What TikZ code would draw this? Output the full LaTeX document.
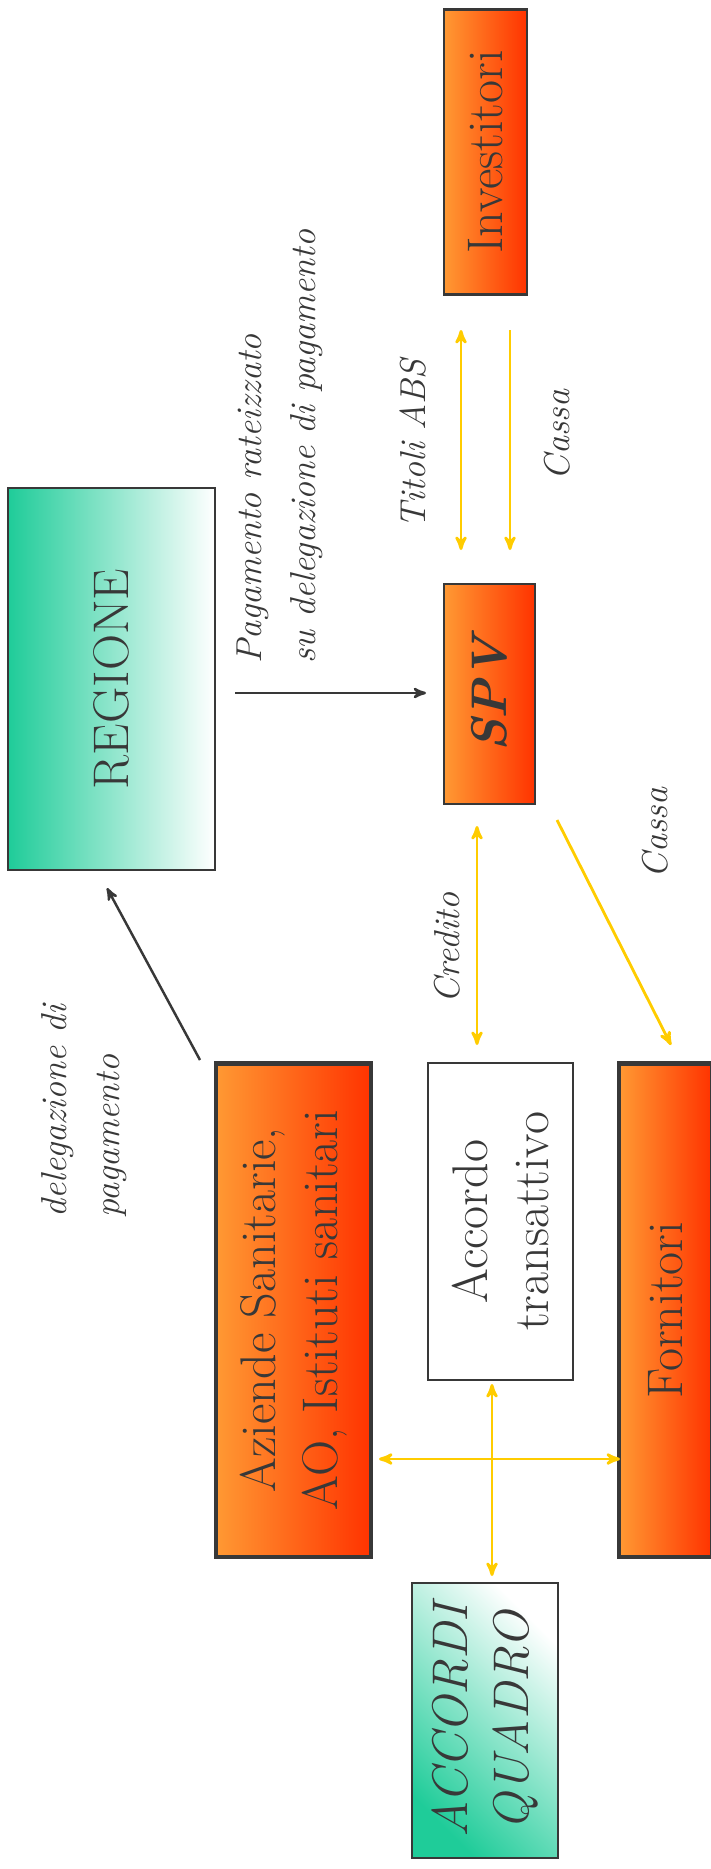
\documentclass[tikz,border=0pt]{standalone}
\usepackage{fontspec}
\usepackage{tikz}
\usetikzlibrary{arrows}

\definecolor{ink}{HTML}{383838}
\definecolor{hotL}{HTML}{FF9933}
\definecolor{hotM}{HTML}{FF7A2A}
\definecolor{hotR}{HTML}{FF3300}
\definecolor{coolL}{HTML}{1FCC99}
\definecolor{coolM}{HTML}{A6E6D2}
\definecolor{flowcol}{HTML}{FFCC00}

\begin{document}
\begin{tikzpicture}[x=0.02cm, y=-0.02cm]

\tikzset{box/.style = {rotate=90, draw=ink, line width=1.2pt, text=ink, align=center, inner sep=0pt,
  font=\fontsize{28.5}{35}\selectfont}}
\tikzset{hot/.style = {box, left color=hotL, middle color=hotM, right color=hotR}}
\tikzset{cool/.style = {box, left color=coolL, middle color=coolM, right color=white}}
\tikzset{lbl/.style = {rotate=90, text=ink, align=left, inner sep=0pt,
  font=\fontsize{20.5}{30.5}\selectfont\itshape}}
\tikzset{arc/.style = {->, >=stealth', draw=ink, line width=1.4pt}}
\tikzset{flow/.style = {>=stealth', draw=flowcol, line width=1.6pt}}

\useasboundingbox (0,0) rectangle (710,1869);

% boxes
\node[cool, minimum width=7.64cm, minimum height=4.14cm] (reg) at (111.5,679) {REGIONE};
\node[hot, minimum width=5.7cm, minimum height=1.66cm, line width=1.4pt] (inv) at (485.5,152) {Investitori};
\node[hot, minimum width=4.4cm, minimum height=1.82cm, line width=1.4pt] (spv) at (489.5,694) {\bfseries\itshape SPV};
\node[hot, minimum width=9.88cm, minimum height=3.1cm, line width=2.8pt] (az) at (293.5,1310) {Aziende Sanitarie,\\AO, Istituti sanitari};
\node[box, fill=white, minimum width=6.34cm, minimum height=2.9cm] (acc) at (500.5,1221.5) {Accordo\\transattivo};
\node[hot, minimum width=9.88cm, minimum height=1.86cm, line width=2.8pt] (forn) at (665.5,1310) {Fornitori};
\node[cool, shading angle=135, minimum width=5.5cm, minimum height=2.92cm] (aq) at (485,1720.5) {\itshape ACCORDI\\\itshape QUADRO};

% labels
\node[lbl, anchor=west] (lpag) at (280,664) {Pagamento rateizzato\\su delegazione di pagamento};
\node[lbl] (ltit) at (413,444) {Titoli ABS};
\node[lbl] (lcas1) at (557,435) {Cassa};
\node[lbl] (lcred) at (447,948) {Credito};
\node[lbl] (lcas2) at (655,833) {Cassa};
\node[lbl, anchor=west] (ldel) at (84,1218) {delegazione di\\pagamento};

% arrow ends
\coordinate (tit1) at (461,330);
\coordinate (tit2) at (461,550);
\coordinate (cas1) at (510,330);
\coordinate (cas2) at (510,550);
\coordinate (pag1) at (235,693);
\coordinate (pag2) at (426,693);
\coordinate (cred1) at (477,826);
\coordinate (cred2) at (477,1045);
\coordinate (cas3) at (557,820);
\coordinate (cas4) at (671,1045);
\coordinate (del1) at (200,1060);
\coordinate (del2) at (107,888);
\coordinate (hor1) at (379,1459);
\coordinate (hor2) at (620,1459);
\coordinate (ver1) at (492,1384);
\coordinate (ver2) at (492,1576);

% arcs
\draw[arc] (pag1) -- (pag2);
\draw[arc] (del1) -- (del2);

% flows
\draw[flow, <->] (tit1) -- (tit2);
\draw[flow, ->] (cas1) -- (cas2);
\draw[flow, <->] (cred1) -- (cred2);
\draw[flow, ->] (cas3) -- (cas4);
\draw[flow, <->] (hor1) -- (hor2);
\draw[flow, <->] (ver1) -- (ver2);

\end{tikzpicture}
\end{document}
